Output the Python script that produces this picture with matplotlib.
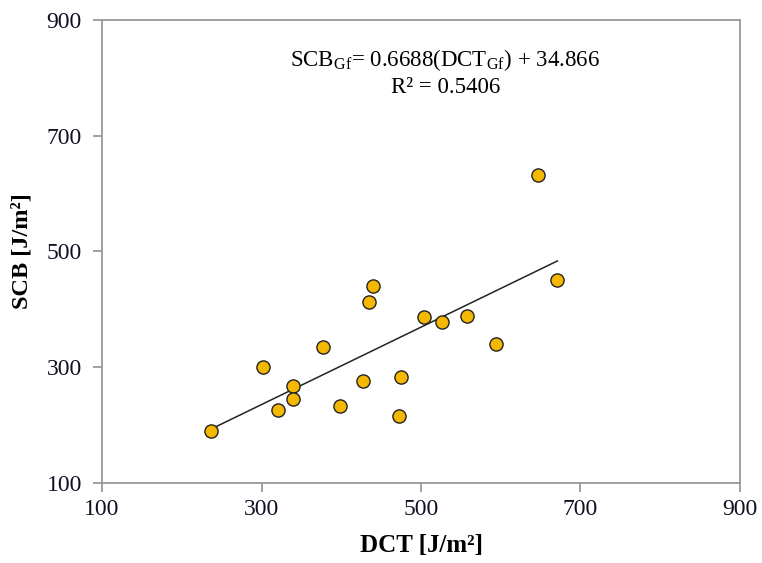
import matplotlib
matplotlib.use('Agg')
import matplotlib.pyplot as plt
import numpy as np

# data
dct = [237, 302, 321, 340, 340, 377, 399, 427, 435, 440, 472, 475, 504, 526, 558, 594, 647, 671]
scb = [190, 300, 226, 268, 245, 335, 233, 277, 413, 441, 216, 284, 387, 379, 388, 341, 632, 451]
slope = 0.6688
intercept = 34.866
r2 = 0.5406
ticks = [100, 300, 500, 700, 900]

plt.rcParams['font.family'] = ['Liberation Serif', 'DejaVu Serif']
plt.rcParams['mathtext.fontset'] = 'custom'
plt.rcParams['mathtext.rm'] = 'Liberation Serif'

fig = plt.figure(figsize=(7.62, 5.63), dpi=100)
ax = fig.add_axes([0.1339, 0.1421, 0.8372, 0.8224])

# trendline over the data range
xl = np.array([min(dct), max(dct)])
ax.plot(xl, slope * xl + intercept, color='#222222', lw=1.1, zorder=2)

ax.scatter(dct, scb, s=90, c='#F5B800', edgecolors='#222222', linewidths=1.0, zorder=3)

ax.set_xlim(100, 900)
ax.set_ylim(100, 900)
ax.set_xticks(ticks)
ax.set_yticks(ticks)
for sp in ax.spines.values():
    sp.set_color('#999999')
    sp.set_linewidth(1.3)
ax.tick_params(direction='out', length=6.5, width=1.3, color='#999999',
               labelsize=17, labelcolor='#111122', pad=5)
ax.tick_params(axis='y', pad=8)

ax.set_xlabel('DCT [J/m²]', fontsize=18, fontweight='bold', labelpad=10)
ax.set_ylabel('SCB [J/m²]', fontsize=17.5, fontweight='bold', labelpad=10)

ax.text(0.538, 0.914, r'SCB$_{\mathregular{Gf}}$= 0.6688(DCT$_{\mathregular{Gf}}$) + 34.866',
        transform=ax.transAxes, ha='center', va='center', fontsize=16.5)
ax.text(0.538, 0.855, 'R² = %.4f' % r2,
        transform=ax.transAxes, ha='center', va='center', fontsize=16.5)

fig.savefig('out.png', dpi=100)
